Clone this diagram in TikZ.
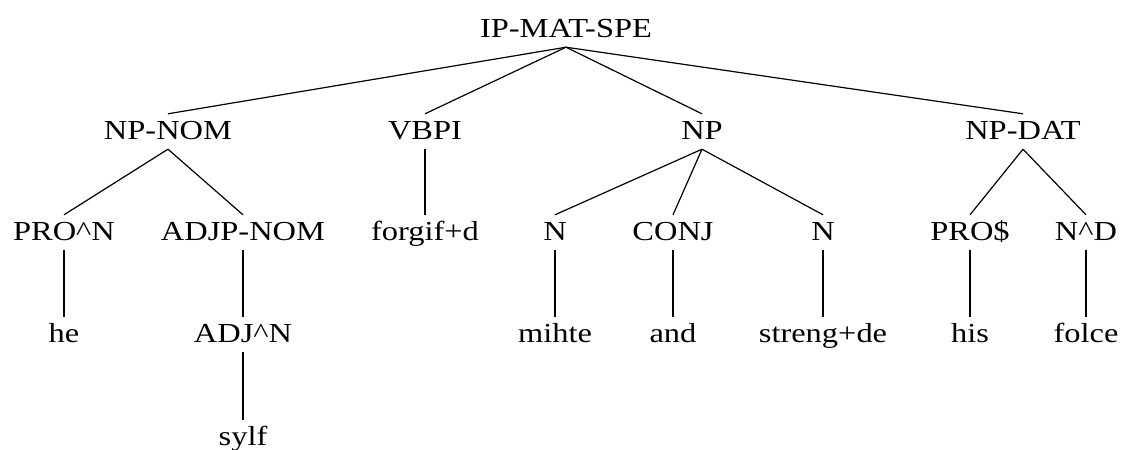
\documentclass[tikz,border=0pt]{standalone}
\usepackage{fontspec}
\setmainfont{Liberation Serif}[FakeStretch=1.18]
\begin{document}
\begin{tikzpicture}[x=1pt,y=-1pt,
  lbl/.style={inner sep=0pt, anchor=base, text height=25pt, text depth=10pt,
    font=\fontsize{27.5}{32}\selectfont},
  edge/.style={line width=1.2pt}]
\useasboundingbox (0,0) rectangle (1125,450);
% root
\node[lbl] (root) at (566,37) {IP-MAT-SPE};
% level 1
\node[lbl] (npnom) at (168,139) {NP-NOM};
\node[lbl] (vbpi) at (425,139) {VBPI};
\node[lbl] (np) at (702,139) {NP};
\node[lbl] (npdat) at (1023,139) {NP-DAT};
% level 2
\node[lbl] (pron) at (64,240) {PRO\textasciicircum N};
\node[lbl] (adjpnom) at (243,240) {ADJP-NOM};
\node[lbl] (forgif) at (425,240) {forgif+d};
\node[lbl] (n1) at (555,240) {N};
\node[lbl] (conj) at (673,240) {CONJ};
\node[lbl] (n2) at (823,240) {N};
\node[lbl] (pros) at (970,240) {PRO\$};
\node[lbl] (nd) at (1086,240) {N\textasciicircum D};
% level 3
\node[lbl] (he) at (64,342) {he};
\node[lbl] (adjn) at (243,342) {ADJ\textasciicircum N};
\node[lbl] (mihte) at (555,342) {mihte};
\node[lbl] (and) at (673,342) {and};
\node[lbl] (streng) at (823,342) {streng+de};
\node[lbl] (his) at (970,342) {his};
\node[lbl] (folce) at (1086,342) {folce};
% level 4
\node[lbl] (sylf) at (243,445) {sylf};
% edges
\foreach \c in {npnom,vbpi,np,npdat} \draw[edge] (root.south) -- (\c.north);
\foreach \c in {pron,adjpnom} \draw[edge] (npnom.south) -- (\c.north);
\draw[edge] (vbpi.south) -- (forgif.north);
\foreach \c in {n1,conj,n2} \draw[edge] (np.south) -- (\c.north);
\foreach \c in {pros,nd} \draw[edge] (npdat.south) -- (\c.north);
\draw[edge] (pron.south) -- (he.north);
\draw[edge] (adjpnom.south) -- (adjn.north);
\draw[edge] (n1.south) -- (mihte.north);
\draw[edge] (conj.south) -- (and.north);
\draw[edge] (n2.south) -- (streng.north);
\draw[edge] (pros.south) -- (his.north);
\draw[edge] (nd.south) -- (folce.north);
\draw[edge] (adjn.south) -- (sylf.north);
\end{tikzpicture}
\end{document}
